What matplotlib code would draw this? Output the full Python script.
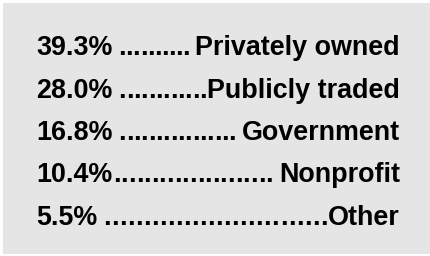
import matplotlib
matplotlib.use("Agg")
import matplotlib.pyplot as plt
from matplotlib.patches import Rectangle

# shares and labels
values = ["39.3%", "28.0%", "16.8%", "10.4%", "5.5%"]
labels = ["Privately owned", "Publicly traded", "Government", "Nonprofit", "Other"]
dots = [10, 12, 16, 21, 28]
gap_left = [True, True, True, False, True]
gap_right = [True, False, True, True, False]

W, H = 431, 256
fig = plt.figure(figsize=(W / 100, H / 100), dpi=100)
fig.patch.set_facecolor("white")
ax = fig.add_axes([0, 0, 1, 1])
ax.set_xlim(0, W)
ax.set_ylim(H, 0)
ax.axis("off")
ax.add_patch(Rectangle((3, 3), 427, 251, facecolor="#e5e5e5", edgecolor="none"))

font = dict(family="Liberation Sans", weight="bold", size=19.4, color="black")
x_left, x_right = 36, 400
y0, dy = 55, 42.5
space = 6.0

fig.canvas.draw()
r = fig.canvas.get_renderer()
inv = ax.transData.inverted()

for i, (v, lab) in enumerate(zip(values, labels)):
    y = y0 + i * dy
    tv = ax.text(x_left, y, v, ha="left", va="baseline", **font)
    tl = ax.text(x_right, y, lab, ha="right", va="baseline", **font)
    bv = tv.get_window_extent(r)
    bl = tl.get_window_extent(r)
    xv = inv.transform((bv.x1, 0))[0]
    xl = inv.transform((bl.x0, 0))[0]
    start = xv + (space if gap_left[i] else 0.5)
    end = xl - (space if gap_right[i] else 0.5)
    n = dots[i]
    s = (end - start) / n
    for k in range(n):
        ax.text(start + k * s, y, ".", ha="left", va="baseline", **font)

fig.savefig("out.png", dpi=100)
